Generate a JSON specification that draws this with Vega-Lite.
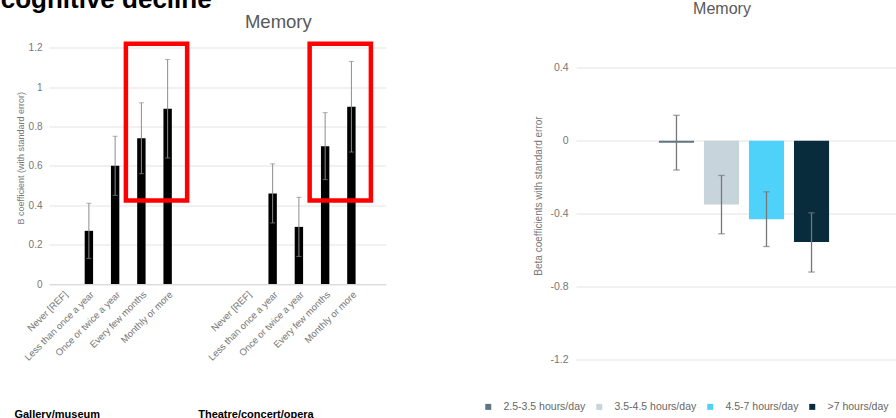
{
  "$schema": "https://vega.github.io/schema/vega-lite/v6.json",
  "padding": {"left": 0, "top": -13.5, "right": 0, "bottom": 0},
  "spacing": 190,
  "bounds": "flush",
  "resolve": {"scale": {"color": "independent"}, "legend": {"color": "independent"}},
  "title": {"text": "cognitive decline", "anchor": "start", "frame": "group", "fontSize": 26, "fontWeight": "bold", "color": "#000000", "baseline": "alphabetic", "offset": -33, "dx": -48.3},
  "config": {
    "view": {"stroke": null},
    "font": "Liberation Sans",
    "axis": {"gridColor": "#e3e3e3", "gridWidth": 1, "domain": false, "ticks": false, "labelColor": "#777777", "titleColor": "#777777", "titleFontWeight": "normal", "labelOverlap": false}
  },
  "hconcat": [
    {
      "width": 336.7,
      "height": 252.5,
      "title": {"text": "Memory", "fontSize": 18.5, "fontWeight": "normal", "color": "#595959", "anchor": "middle", "dx": 61, "baseline": "alphabetic", "offset": -14.5},
      "layer": [
        {
          "data": {"name": "arts"},
          "mark": {"type": "bar", "color": "#000000"},
          "encoding": {
            "x": {"field": "key", "type": "nominal",
              "scale": {"domain": ["G|Never [REF]", "G|Less than once a year", "G|Once or twice a year", "G|Every few months", "G|Monthly or more", "gap1|", "gap2|", "T|Never [REF]", "T|Less than once a year", "T|Once or twice a year", "T|Every few months", "T|Monthly or more", "gap3|"], "paddingInner": 0.68, "paddingOuter": 0.253, "align": 0.71},
              "axis": {"title": null, "labelAngle": -45, "labelFontSize": 9.5, "labelPadding": 5, "domain": true, "domainColor": "#d9d9d9", "labelExpr": "split(datum.value, '|')[1]"}},
            "y": {"field": "value", "type": "quantitative",
              "scale": {"domain": [0, 1.282], "nice": false},
              "axis": {"title": "B coefficient (with standard error)", "titleFontSize": 9, "titlePadding": 3, "labelFontSize": 10, "labelPadding": 7, "format": "~g", "values": [0, 0.2, 0.4, 0.6, 0.8, 1, 1.2]}}
          }
        },
        {
          "data": {"name": "arts"},
          "mark": {"type": "rule", "color": "#8c8c8c", "strokeWidth": 1},
          "encoding": {"x": {"field": "key", "type": "nominal"}, "y": {"field": "lo", "type": "quantitative"}, "y2": {"field": "hi"}}
        },
        {
          "data": {"name": "arts"},
          "mark": {"type": "tick", "color": "#8c8c8c", "size": 5, "thickness": 1},
          "encoding": {"x": {"field": "key", "type": "nominal"}, "y": {"field": "hi", "type": "quantitative"}}
        },
        {
          "data": {"name": "arts"},
          "mark": {"type": "tick", "color": "#8c8c8c", "size": 5, "thickness": 1},
          "encoding": {"x": {"field": "key", "type": "nominal"}, "y": {"field": "lo", "type": "quantitative"}}
        },
        {
          "data": {"name": "highlights"},
          "mark": {"type": "rect", "filled": false, "stroke": "#ff0000", "strokeWidth": 4.5, "xOffset": -15.5, "x2Offset": 19.5},
          "encoding": {
            "x": {"field": "from", "type": "nominal", "bandPosition": 0.5},
            "x2": {"field": "to", "bandPosition": 0.5},
            "y": {"field": "low", "type": "quantitative"},
            "y2": {"field": "high"}
          }
        },
        {
          "data": {"name": "groups"},
          "mark": {"type": "text", "align": "left", "baseline": "alphabetic", "fontSize": 11, "fontWeight": "bold", "color": "#000000", "dx": -44},
          "encoding": {
            "x": {"field": "at", "type": "nominal", "bandPosition": 0},
            "y": {"datum": -0.678},
            "text": {"field": "name"}
          }
        }
      ]
    },
    {
      "width": 336,
      "height": 328,
      "data": {"name": "screen"},
      "title": {"text": "Memory", "fontSize": 16, "fontWeight": "normal", "color": "#595959", "anchor": "middle", "dx": -22, "baseline": "alphabetic", "offset": 2},
      "encoding": {
        "x": {"field": "measure", "type": "nominal", "scale": {"paddingInner": 0, "paddingOuter": 0.433}, "axis": null},
        "xOffset": {"field": "series", "type": "nominal", "sort": ["2.5-3.5 hours/day", "3.5-4.5 hours/day", "4.5-7 hours/day", ">7 hours/day"], "scale": {"paddingInner": 0.22, "paddingOuter": 0.11}}
      },
      "layer": [
        {
          "mark": {"type": "bar"},
          "encoding": {
            "y": {"field": "value", "type": "quantitative",
              "scale": {"domain": [-1.2, 0.6], "nice": false},
              "axis": {"title": "Beta coefficients with standard error", "titleFontSize": 10, "titlePadding": 6, "labelFontSize": 10.5, "labelPadding": 8, "values": [-1.2, -1, -0.8, -0.6, -0.4, -0.2, 0, 0.2, 0.4, 0.6], "format": "~g", "labelExpr": "replace(datum.label, '−', '-')"}},
            "color": {"field": "series", "type": "nominal",
              "scale": {"domain": ["2.5-3.5 hours/day", "3.5-4.5 hours/day", "4.5-7 hours/day", ">7 hours/day"], "range": ["#5f7583", "#c8d4db", "#4fd2fa", "#082c3c"]},
              "legend": {"title": null, "orient": "none", "direction": "horizontal", "legendX": -93, "legendY": 370, "symbolType": "square", "symbolSize": 36, "symbolStrokeWidth": 0, "labelFontSize": 10.5, "labelColor": "#666666", "labelOffset": 10, "columnPadding": 8}}
          }
        },
        {
          "mark": {"type": "rule", "color": "#777777", "strokeWidth": 1.3},
          "encoding": {"y": {"field": "lo", "type": "quantitative"}, "y2": {"field": "hi"}}
        },
        {
          "mark": {"type": "tick", "color": "#777777", "size": 6.5, "thickness": 1.3},
          "encoding": {"y": {"field": "hi", "type": "quantitative"}}
        },
        {
          "mark": {"type": "tick", "color": "#777777", "size": 6.5, "thickness": 1.3},
          "encoding": {"y": {"field": "lo", "type": "quantitative"}}
        }
      ]
    }
  ],
  "datasets": {
    "arts": [
      {"key": "G|Never [REF]", "value": 0, "lo": null, "hi": null},
      {"key": "G|Less than once a year", "value": 0.27, "lo": 0.13, "hi": 0.41},
      {"key": "G|Once or twice a year", "value": 0.6, "lo": 0.45, "hi": 0.75},
      {"key": "G|Every few months", "value": 0.74, "lo": 0.56, "hi": 0.92},
      {"key": "G|Monthly or more", "value": 0.89, "lo": 0.64, "hi": 1.14},
      {"key": "T|Never [REF]", "value": 0, "lo": null, "hi": null},
      {"key": "T|Less than once a year", "value": 0.46, "lo": 0.31, "hi": 0.61},
      {"key": "T|Once or twice a year", "value": 0.29, "lo": 0.14, "hi": 0.44},
      {"key": "T|Every few months", "value": 0.7, "lo": 0.53, "hi": 0.87},
      {"key": "T|Monthly or more", "value": 0.9, "lo": 0.67, "hi": 1.13}
    ],
    "highlights": [
      {"from": "G|Every few months", "to": "G|Monthly or more", "low": 0.424, "high": 1.22},
      {"from": "T|Every few months", "to": "T|Monthly or more", "low": 0.424, "high": 1.22}
    ],
    "groups": [
      {"name": "Gallery/museum", "at": "G|Never [REF]"},
      {"name": "Theatre/concert/opera", "at": "T|Never [REF]"}
    ],
    "screen": [
      {"measure": "Memory", "series": "2.5-3.5 hours/day", "value": -0.01, "lo": -0.16, "hi": 0.14},
      {"measure": "Memory", "series": "3.5-4.5 hours/day", "value": -0.35, "lo": -0.51, "hi": -0.19},
      {"measure": "Memory", "series": "4.5-7 hours/day", "value": -0.43, "lo": -0.58, "hi": -0.28},
      {"measure": "Memory", "series": ">7 hours/day", "value": -0.555, "lo": -0.72, "hi": -0.395}
    ]
  }
}
